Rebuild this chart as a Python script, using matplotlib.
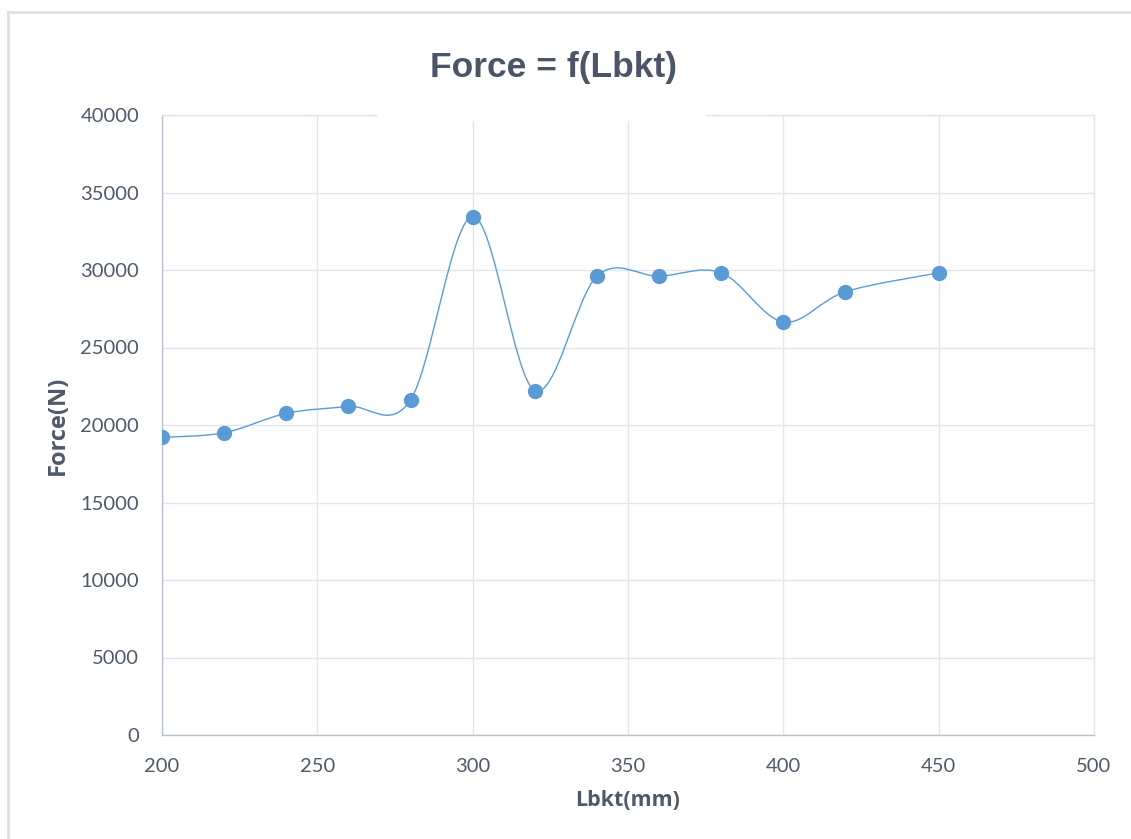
import numpy as np
import matplotlib
matplotlib.use("Agg")
import matplotlib.pyplot as plt
from matplotlib.path import Path
from matplotlib.patches import PathPatch, Rectangle
from matplotlib.lines import Line2D

# Bracket length (mm) and measured force (N)
lbkt_mm = [200, 220, 240, 260, 280, 300, 320, 340, 360, 380, 400, 420, 450]
force_n = [19200, 19500, 20750, 21200, 21620, 33450, 22220, 29600, 29600, 29820, 26650, 28600, 29820]

x_ticks = [200, 250, 300, 350, 400, 450, 500]
y_ticks = [0, 5000, 10000, 15000, 20000, 25000, 30000, 35000, 40000]

BLUE = "#5B9BD5"
TEXT = "#4E5A6A"
GRID = "#E2E6EC"
AXIS = "#BAC2CE"

W, H = 1131, 839
fig = plt.figure(figsize=(W / 100, H / 100), dpi=100)
fig.patch.set_facecolor("white")

ax = fig.add_axes([162 / W, 1 - 735 / H, (1094 - 162) / W, (735 - 115) / H])
ax.set_xlim(200, 500)
ax.set_ylim(0, 40000)
ax.set_xticks(x_ticks)
ax.set_yticks(y_ticks)
ax.grid(True, color=GRID, linewidth=1.0)
ax.set_axisbelow(True)
for side in ("top", "right"):
    ax.spines[side].set_color(GRID)
    ax.spines[side].set_linewidth(1.0)
for side in ("left", "bottom"):
    ax.spines[side].set_color(AXIS)
    ax.spines[side].set_linewidth(1.0)
ax.tick_params(length=0, labelsize=14.5, labelcolor=TEXT)
ax.tick_params(axis="x", pad=16.5)
ax.tick_params(axis="y", pad=16.5)
for lab in ax.get_xticklabels() + ax.get_yticklabels():
    lab.set_fontfamily("Lato")

# Smoothed connecting curve (Catmull-Rom style cubic Bezier segments)
xs = np.asarray(lbkt_mm, dtype=float)
ys = np.asarray(force_n, dtype=float)
pts = np.column_stack([xs, ys])
ext = np.vstack([pts[0], pts, pts[-1]])
verts = [tuple(pts[0])]
codes = [Path.MOVETO]
for i in range(len(pts) - 1):
    p0, p1, p2, p3 = ext[i], ext[i + 1], ext[i + 2], ext[i + 3]
    c1 = p1 + (p2 - p0) / 6.0
    c2 = p2 - (p3 - p1) / 6.0
    verts += [tuple(c1), tuple(c2), tuple(p2)]
    codes += [Path.CURVE4] * 3
ax.add_patch(PathPatch(Path(verts, codes), facecolor="none", edgecolor=BLUE,
                       linewidth=1.0, zorder=3))
ax.plot(xs, ys, linestyle="none", marker="o", markersize=10,
        markerfacecolor=BLUE, markeredgecolor=BLUE, zorder=4)

ax.set_xlabel("Lbkt(mm)", fontsize=15.5, fontweight="bold", color=TEXT,
              fontfamily="Open Sans", va="center")
ax.set_ylabel("Force(N)", fontsize=17, fontweight="bold", color=TEXT,
              fontfamily="Open Sans", va="center")
ax.xaxis.set_label_coords(0.5, -(801 - 735) / 620)
ax.yaxis.set_label_coords((58 - 162) / 932, 0.5)

# Title with its white backing box over the top gridline
fig.patches.append(Rectangle((378 / W, 1 - 121 / H), (706 - 378) / W, 30 / H,
                             transform=fig.transFigure, facecolor="white",
                             edgecolor="none", zorder=5))
fig.text(553 / W, 1 - 68 / H, "Force = f(Lbkt)", ha="center", va="center",
         fontsize=25.5, fontweight="bold", color="#4A5567",
         fontfamily="Liberation Sans", zorder=6)

# Chart area frame
fig.add_artist(Line2D([8 / W, 1.0], [1 - 12 / H, 1 - 12 / H], transform=fig.transFigure,
                      color="#DCE0E6", linewidth=2.0))
fig.add_artist(Line2D([8 / W, 8 / W], [0.0, 1 - 12 / H], transform=fig.transFigure,
                      color="#DCE0E6", linewidth=2.0))

fig.savefig("out.png", dpi=100)
